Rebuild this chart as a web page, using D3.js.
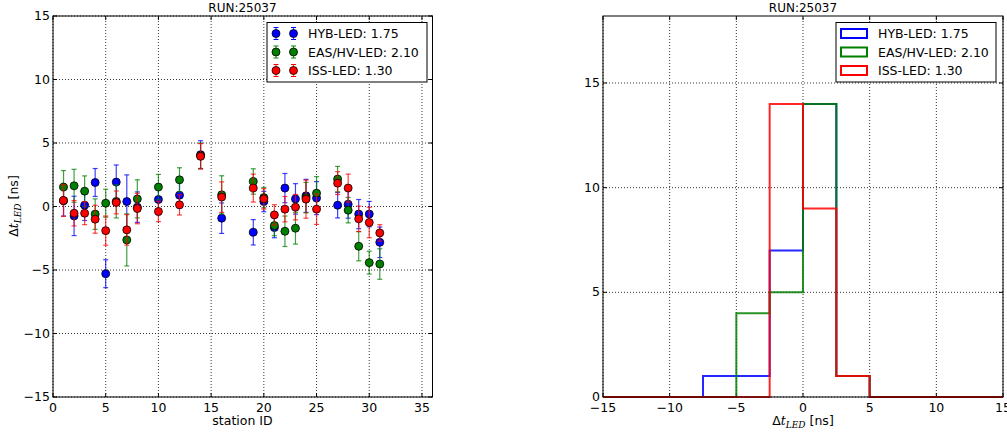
<!DOCTYPE html>
<html>
<head>
<meta charset="utf-8">
<script src="https://cdn.jsdelivr.net/npm/d3@7"></script>
<style>
body { margin: 0; background: #fff; }
svg { font-family: "DejaVu Sans", sans-serif; }
</style>
</head>
<body>
<svg id="chart" width="1007" height="432"></svg>
<script>
var width = 1007, height = 432

// station numbers and measured offsets [ns]
var stations = [1, 2, 3, 4, 5, 6, 7, 8, 10, 12, 14, 16, 19, 20, 21, 22, 23, 24, 25, 27, 28, 29, 30, 31]
var hybVals = [0.45, -0.74, 0.1, 1.89, -5.29, 1.92, 0.39, -0.05, 0.55, 0.89, 4.08, -0.92, -2.03, 0.39, -1.66, 1.45, 0.6, 0.84, 0.66, 0.1, 0.18, -0.6, -0.6, -2.82]
var hybErr = [1.2, 1.55, 1.2, 1.1, 1.1, 1.35, 2.1, 1.2, 1.2, 1.0, 1.1, 1.2, 1.0, 0.8, 0.8, 1.15, 1.2, 1.3, 1.3, 1.0, 1.1, 1.15, 1.0, 1.2]
var easVals = [1.53, 1.63, 1.21, -0.6, 0.26, 0.4, -2.63, 0.6, 1.53, 2.1, 4.0, 0.92, 1.97, 0.7, -1.5, -1.95, -1.71, 0.7, 1.05, 2.16, -0.29, -3.13, -4.42, -4.53]
var easErr = [1.3, 1.3, 1.2, 1.2, 1.1, 1.3, 2.05, 1.5, 1.0, 0.95, 1.0, 1.5, 1.0, 0.8, 0.8, 1.2, 1.25, 1.2, 1.3, 1.0, 1.0, 1.15, 0.9, 1.2]
var issVals = [0.47, -0.53, -0.53, -1.0, -1.9, 0.32, -1.84, -0.16, -0.39, 0.13, 3.95, 0.74, 1.45, 0.6, -0.66, -0.21, -0.05, 0.58, -0.21, 1.84, 1.45, -0.97, -1.26, -2.08]
var issErr = [1.25, 1.0, 0.9, 1.1, 1.15, 0.9, 1.2, 1.2, 0.8, 0.8, 1.0, 1.2, 1.1, 0.8, 0.8, 1.0, 1.0, 1.5, 1.2, 0.9, 1.1, 1.0, 1.2, 0.65]

var seriesNames = ["HYB-LED: 1.75", "EAS/HV-LED: 2.10", "ISS-LED: 1.30"]
var seriesColors = ["#0000ff", "#008000", "#ff0000"]
var series = [
    {name: seriesNames[0], color: seriesColors[0], vals: hybVals, err: hybErr},
    {name: seriesNames[1], color: seriesColors[1], vals: easVals, err: easErr},
    {name: seriesNames[2], color: seriesColors[2], vals: issVals, err: issErr}
]

var leftXTicks = [0, 5, 10, 15, 20, 25, 30, 35]
var leftYTicks = [-15, -10, -5, 0, 5, 10, 15]
var rightXTicks = [-15, -10, -5, 0, 5, 10, 15]
var rightYTicks = [0, 5, 10, 15]
var binEdges = d3.range(-15, 15, 2.5)

var svg = d3.select("#chart")

function fmt(v) { return v < 0 ? "\u2212" + Math.abs(v) : "" + v }

// draws frame, grid and inward ticks on all four sides
function frame(g, x, y, xt, yt) {
    var x0 = x.range()[0], x1 = x.range()[1], y0 = y.range()[0], y1 = y.range()[1]
    g.selectAll(".gx").data(xt).enter().append("line")
        .attr("x1", d => x(d)).attr("x2", d => x(d)).attr("y1", y0).attr("y2", y1)
        .attr("stroke", "#000").attr("stroke-dasharray", "1,2").attr("stroke-width", 0.8)
    g.selectAll(".gy").data(yt).enter().append("line")
        .attr("y1", d => y(d)).attr("y2", d => y(d)).attr("x1", x0).attr("x2", x1)
        .attr("stroke", "#000").attr("stroke-dasharray", "1,2").attr("stroke-width", 0.8)
    xt.forEach(function(d) {
        g.append("line").attr("x1", x(d)).attr("x2", x(d)).attr("y1", y0).attr("y2", y0 - 4).attr("stroke", "#000")
        g.append("line").attr("x1", x(d)).attr("x2", x(d)).attr("y1", y1).attr("y2", y1 + 4).attr("stroke", "#000")
        g.append("text").attr("x", x(d)).attr("y", y0 + 15).attr("text-anchor", "middle")
            .attr("font-size", "12.5px").text(fmt(d))
    })
    yt.forEach(function(d) {
        g.append("line").attr("y1", y(d)).attr("y2", y(d)).attr("x1", x0).attr("x2", x0 + 4).attr("stroke", "#000")
        g.append("line").attr("y1", y(d)).attr("y2", y(d)).attr("x1", x1).attr("x2", x1 - 4).attr("stroke", "#000")
        g.append("text").attr("x", x0 - 3).attr("y", y(d) + 4).attr("text-anchor", "end")
            .attr("font-size", "12.5px").text(fmt(d))
    })
}

function box(g, x, y) {
    g.append("rect").attr("x", x.range()[0]).attr("y", y.range()[1])
        .attr("width", x.range()[1] - x.range()[0]).attr("height", y.range()[0] - y.range()[1])
        .attr("fill", "none").attr("stroke", "#000").attr("stroke-width", 1)
}

function dtLabel(t) {
    t.append("tspan").text("\u0394")
    t.append("tspan").attr("font-style", "italic").attr("font-family", "DejaVu Serif").text("t")
    t.append("tspan").attr("font-style", "italic").attr("font-family", "DejaVu Serif")
        .attr("font-size", "9px").attr("dy", 3).text("LED")
    t.append("tspan").attr("dy", -3).text(" [ns]")
}

// ---------- left: offsets per station ----------
var xL = d3.scaleLinear().domain([0, 36]).range([53, 432.5])
var yL = d3.scaleLinear().domain([-15, 15]).range([397, 16])
var gL = svg.append("g")
frame(gL, xL, yL, leftXTicks, leftYTicks)

series.forEach(function(s) {
    var pts = stations.map((st, i) => ({x: st, v: s.vals[i], e: s.err[i]}))
    var eg = gL.append("g").attr("stroke", s.color).attr("stroke-opacity", 0.75).attr("stroke-width", 1.2)
    eg.selectAll("line.bar").data(pts).enter().append("line")
        .attr("x1", d => xL(d.x)).attr("x2", d => xL(d.x))
        .attr("y1", d => yL(d.v - d.e)).attr("y2", d => yL(d.v + d.e))
    eg.selectAll("line.capT").data(pts).enter().append("line")
        .attr("x1", d => xL(d.x) - 2.5).attr("x2", d => xL(d.x) + 2.5)
        .attr("y1", d => yL(d.v + d.e)).attr("y2", d => yL(d.v + d.e))
    eg.selectAll("line.capB").data(pts).enter().append("line")
        .attr("x1", d => xL(d.x) - 2.5).attr("x2", d => xL(d.x) + 2.5)
        .attr("y1", d => yL(d.v - d.e)).attr("y2", d => yL(d.v - d.e))
    gL.append("g").selectAll("circle").data(pts).enter().append("circle")
        .attr("cx", d => xL(d.x)).attr("cy", d => yL(d.v)).attr("r", 4)
        .attr("fill", s.color).attr("stroke", "#000").attr("stroke-width", 0.8)
})
box(gL, xL, yL)

gL.append("text").attr("x", 242.5).attr("y", 12).attr("text-anchor", "middle").attr("font-size", "12px").text("RUN:25037")
gL.append("text").attr("x", 242.5).attr("y", 425).attr("text-anchor", "middle").attr("font-size", "12.5px").text("station ID")
gL.append("text").attr("transform", "translate(18,206) rotate(-90)").attr("text-anchor", "middle")
    .attr("font-size", "12.5px").call(dtLabel)

// legend left
var lgL = gL.append("g")
lgL.append("rect").attr("x", 267).attr("y", 22.5).attr("width", 160).attr("height", 59.5)
    .attr("fill", "#fff").attr("stroke", "#000").attr("stroke-width", 1)
series.forEach(function(s, i) {
    var cy = 33.5 + i * 18.5
    ;[276, 293.5].forEach(function(cx) {
        lgL.append("line").attr("x1", cx).attr("x2", cx).attr("y1", cy - 6).attr("y2", cy + 6)
            .attr("stroke", s.color).attr("stroke-opacity", 0.75).attr("stroke-width", 1.2)
        lgL.append("line").attr("x1", cx - 2.5).attr("x2", cx + 2.5).attr("y1", cy - 6).attr("y2", cy - 6).attr("stroke", s.color)
        lgL.append("line").attr("x1", cx - 2.5).attr("x2", cx + 2.5).attr("y1", cy + 6).attr("y2", cy + 6).attr("stroke", s.color)
        lgL.append("circle").attr("cx", cx).attr("cy", cy).attr("r", 4)
            .attr("fill", s.color).attr("stroke", "#000").attr("stroke-width", 0.8)
    })
    lgL.append("text").attr("x", 308).attr("y", cy + 4.5).attr("font-size", "12.5px").text(s.name)
})

// ---------- right: histogram ----------
var xR = d3.scaleLinear().domain([-15, 15]).range([603, 1003])
var yR = d3.scaleLinear().domain([0, 18.2]).range([397, 16])
var gR = svg.append("g")
frame(gR, xR, yR, rightXTicks, rightYTicks)

var binner = d3.bin().domain([-15, 15]).thresholds(binEdges)
series.forEach(function(s) {
    var bins = binner(s.vals)
    var p = d3.path()
    p.moveTo(xR(-15), yR(0))
    bins.forEach(function(b) {
        p.lineTo(xR(b.x0), yR(b.length))
        p.lineTo(xR(b.x1), yR(b.length))
    })
    p.lineTo(xR(15), yR(0))
    gR.append("path").attr("d", p.toString()).attr("fill", "none")
        .attr("stroke", s.color).attr("stroke-width", 2).attr("stroke-opacity", 0.85)
})
box(gR, xR, yR)

gR.append("text").attr("x", 803).attr("y", 12).attr("text-anchor", "middle").attr("font-size", "12px").text("RUN:25037")
gR.append("text").attr("x", 803).attr("y", 425).attr("text-anchor", "middle").attr("font-size", "12.5px").call(dtLabel)

var lgR = gR.append("g")
lgR.append("rect").attr("x", 836).attr("y", 22.5).attr("width", 160).attr("height", 59.5)
    .attr("fill", "#fff").attr("stroke", "#000").attr("stroke-width", 1)
series.forEach(function(s, i) {
    var cy = 33.5 + i * 18.5
    lgR.append("rect").attr("x", 841).attr("y", cy - 4.5).attr("width", 26).attr("height", 9)
        .attr("fill", "none").attr("stroke", s.color).attr("stroke-width", 2)
    lgR.append("text").attr("x", 878).attr("y", cy + 4.5).attr("font-size", "12.5px").text(s.name)
})
</script>
</body>
</html>
